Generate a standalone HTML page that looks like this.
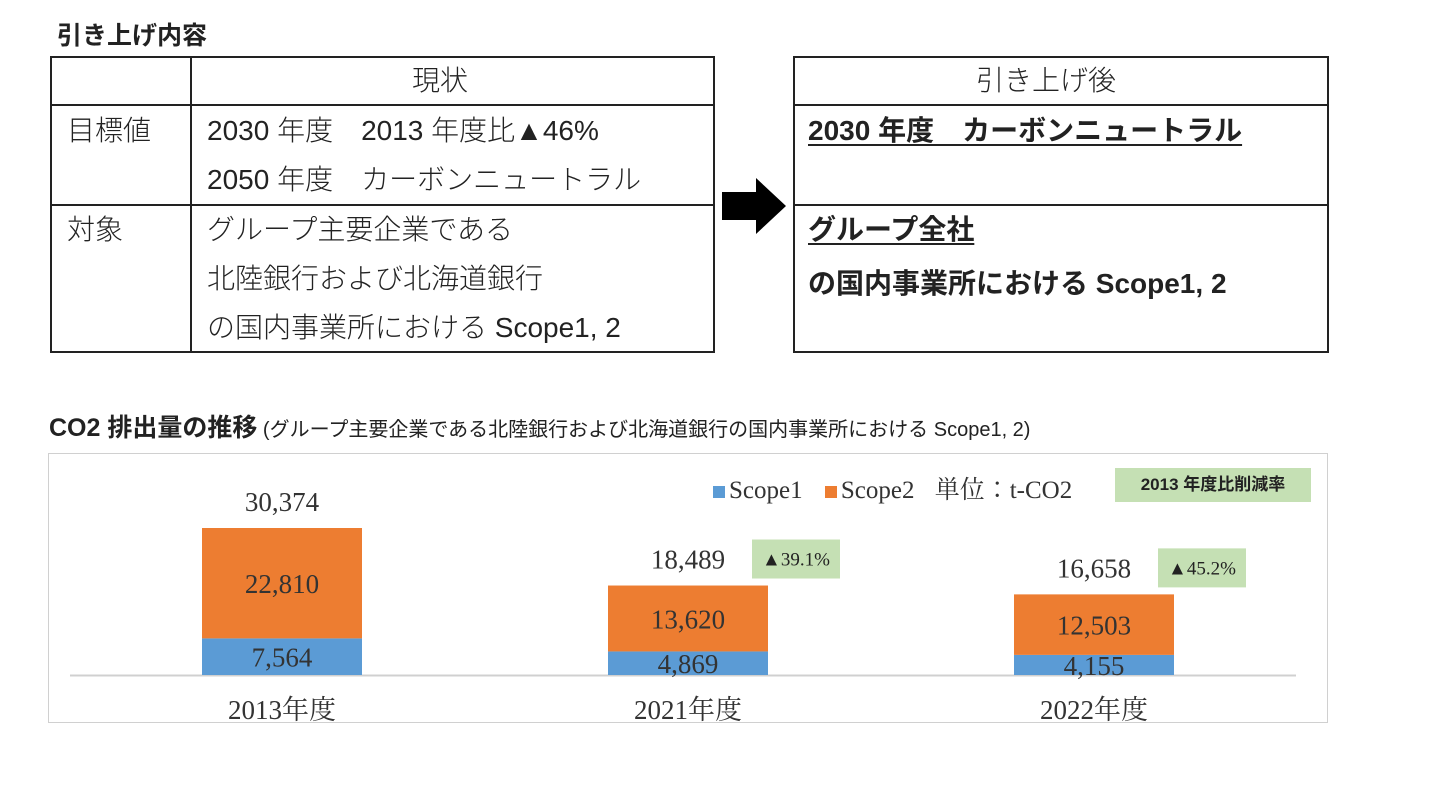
<!DOCTYPE html>
<html><head><meta charset="utf-8">
<style>
body{margin:0;width:1454px;height:797px;background:#fff;position:relative;overflow:hidden;font-family:"Liberation Sans","Noto Sans CJK JP",sans-serif;color:#222}
.a{position:absolute;white-space:nowrap}
.t{font-size:28px;line-height:30px;font-weight:300}
.b{font-size:28px;line-height:30px;font-weight:700;text-decoration:underline;text-underline-offset:4px}
.ln{position:absolute;background:#222}
.c{font-family:"Liberation Serif","Noto Serif CJK JP",serif;color:#333}
</style></head><body>
<div class="a" style="left:57px;top:16px;font-size:25px;font-weight:700">引き上げ内容</div>

<div style="position:absolute;left:50px;top:56px;width:661px;height:293px;border:2px solid #222"></div>
<div class="ln" style="left:190px;top:56px;width:2px;height:295px"></div>
<div class="ln" style="left:50px;top:104px;width:663px;height:2px"></div>
<div class="ln" style="left:50px;top:204px;width:663px;height:2px"></div>
<div class="a t" style="left:412px;top:66px">現状</div>
<div class="a t" style="left:67px;top:116px">目標値</div>
<div class="a t" style="left:207px;top:106px;line-height:49px">2030 年度　2013 年度比▲46%<br>2050 年度　カーボンニュートラル</div>
<div class="a t" style="left:67px;top:215px">対象</div>
<div class="a t" style="left:207px;top:205px;line-height:49px">グループ主要企業である<br>北陸銀行および北海道銀行<br>の国内事業所における Scope1, 2</div>

<svg class="a" style="left:720px;top:176px" width="68" height="60"><polygon points="2,16 36,16 36,2 66,30 36,58 36,44 2,44" fill="#000"/></svg>

<div style="position:absolute;left:793px;top:56px;width:532px;height:293px;border:2px solid #222"></div>
<div class="ln" style="left:793px;top:104px;width:534px;height:2px"></div>
<div class="ln" style="left:793px;top:204px;width:534px;height:2px"></div>
<div class="a t" style="left:976px;top:66px">引き上げ後</div>
<div class="a b" style="left:808px;top:116px">2030 年度　カーボンニュートラル</div>
<div class="a b" style="left:808px;top:215px">グループ全社</div>
<div class="a" style="left:808px;top:262px;font-size:28px;font-weight:700">の国内事業所における Scope1, 2</div>

<div class="a" style="left:49px;top:408px;font-size:25px;font-weight:700">CO2 排出量の推移<span style="font-size:20px;font-weight:400"> (グループ主要企業である北陸銀行および北海道銀行の国内事業所における Scope1, 2)</span></div>

<div style="position:absolute;left:48px;top:453px;width:1278px;height:268px;border:1px solid #d0d0d0"></div>
<svg id="chart" class="a" style="left:0;top:0" width="1454" height="797"></svg>

<script>
const categories=["2013年度","2021年度","2022年度"];
const scope1=[7564,4869,4155];
const scope2=[22810,13620,12503];
const totals=["30,374","18,489","16,658"];
const reductions=[null,"▲39.1%","▲45.2%"];
const NS="http://www.w3.org/2000/svg";
const svg=document.getElementById('chart');
const baseY=675, pxPerUnit=147/30374;
const y=v=>baseY-v*pxPerUnit;
const xc=i=>282+i*406;
const bw=160;
function mk(tag,attrs,txt){const e=document.createElementNS(NS,tag);for(const k in attrs)e.setAttribute(k,attrs[k]);if(txt!==undefined)e.textContent=txt;svg.appendChild(e);return e;}
const fmt=v=>v.toLocaleString('en-US');
const axis=mk('line',{x1:70,x2:1296,y1:baseY+0.5,y2:baseY+0.5,stroke:'#d0d0d0','stroke-width':2});


categories.forEach((c,i)=>{
  const x=xc(i)-bw/2;
  const r1=mk('rect',{x:x,y:y(scope1[i]),width:bw,height:baseY-y(scope1[i]),fill:'#5b9bd5'});
  
  
  const top=scope1[i]+scope2[i];
  const r2=mk('rect',{x:x,y:y(top),width:bw,height:y(scope1[i])-y(top),fill:'#ed7d31'});
  
  
  const st={'font-family':'Liberation Serif, serif','font-size':27,fill:'#333','text-anchor':'middle'};
  const l1=mk('text',Object.assign({x:xc(i),y:(y(scope1[i])+baseY)/2+10},st),fmt(scope1[i]));
  
  
  const l2=mk('text',Object.assign({x:xc(i),y:(y(top)+y(scope1[i]))/2+10},st),fmt(scope2[i]));
  
  
  const lt=mk('text',Object.assign({x:xc(i),y:y(top)-17},st),totals[i]);
  
  
  const lc=mk('text',Object.assign({x:xc(i),y:719},st,{'font-family':'Liberation Serif, Noto Serif CJK JP, serif'}),c);
  
  
  if(reductions[i]){
    const bx=xc(i)+64, by=y(top)-46;
    const rb=mk('rect',{x:bx,y:by,width:88,height:39,fill:'#c5e0b4'});
    
    
    const rt=mk('text',{x:bx+44,y:by+26,'text-anchor':'middle','font-family':'Liberation Serif, serif','font-size':19,fill:'#222'},reductions[i]);
    
    
  }
});
</script>
<div class="a c" style="left:713px;top:470px;font-size:25px">
<span><span style="display:inline-block;width:12px;height:12px;background:#5b9bd5;margin-right:4px"></span>Scope1</span>
<span style="margin-left:16px"><span style="display:inline-block;width:12px;height:12px;background:#ed7d31;margin-right:4px"></span>Scope2</span>
<span style="margin-left:14px">単位：t-CO2</span></div>
<div class="a" style="left:1115px;top:468px;width:196px;height:34px;background:#c5e0b4;font-size:17px;font-weight:700;line-height:34px;text-align:center;font-family:'Liberation Sans','Noto Sans CJK JP',sans-serif">2013 年度比削減率</div>
</body></html>
